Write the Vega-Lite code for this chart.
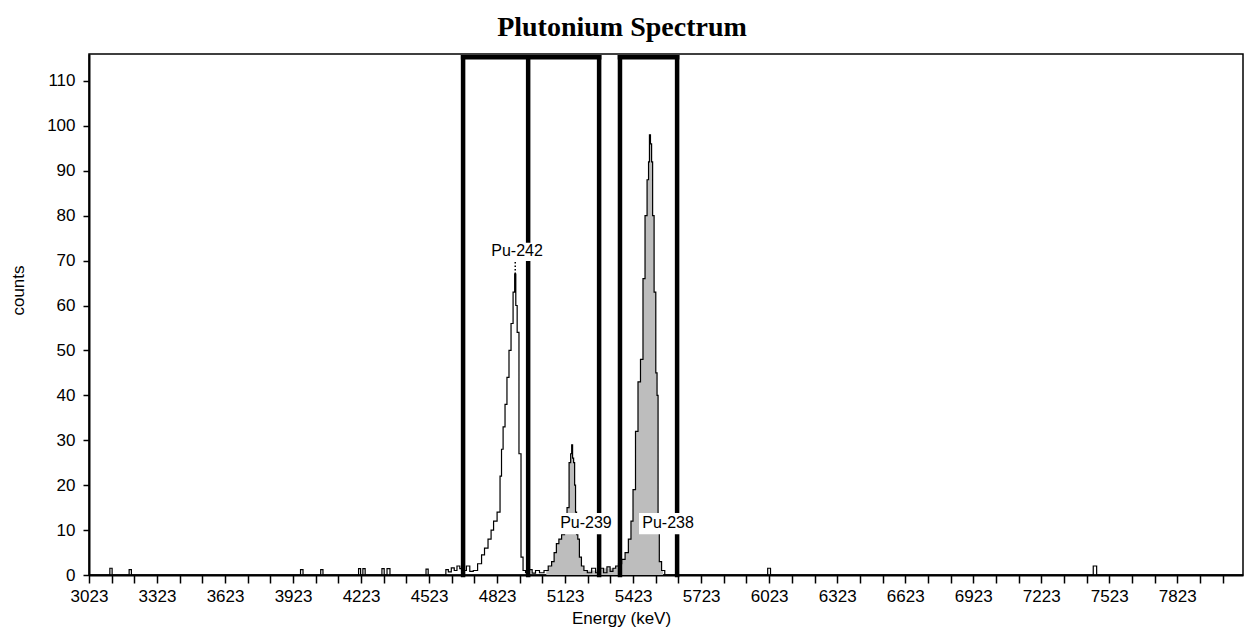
{
  "$schema": "https://vega.github.io/schema/vega-lite/v6.json",
  "autosize": {"type": "none"},
  "padding": {"left": 89, "top": 54, "right": 1, "bottom": 60},
  "width": 1154,
  "height": 521,
  "background": "white",
  "title": {
    "text": "Plutonium Spectrum",
    "font": "Liberation Serif",
    "fontSize": 28,
    "fontWeight": "bold",
    "color": "black",
    "anchor": "middle",
    "dx": -44,
    "offset": 12
  },
  "datasets": {
    "spectrum": [
      {"energy": 3023, "counts": 0, "peak": "none"},
      {"energy": 3110, "counts": 0, "peak": "none"},
      {"energy": 3120, "counts": 1.5, "peak": "none"},
      {"energy": 3130, "counts": 0, "peak": "none"},
      {"energy": 3195, "counts": 0, "peak": "none"},
      {"energy": 3205, "counts": 1.2, "peak": "none"},
      {"energy": 3215, "counts": 0, "peak": "none"},
      {"energy": 3950, "counts": 0, "peak": "none"},
      {"energy": 3962, "counts": 1.2, "peak": "none"},
      {"energy": 3972, "counts": 0, "peak": "none"},
      {"energy": 4040, "counts": 0, "peak": "none"},
      {"energy": 4050, "counts": 1.2, "peak": "none"},
      {"energy": 4060, "counts": 0, "peak": "none"},
      {"energy": 4208, "counts": 0, "peak": "none"},
      {"energy": 4216, "counts": 1.4, "peak": "none"},
      {"energy": 4226, "counts": 0, "peak": "none"},
      {"energy": 4236, "counts": 1.4, "peak": "none"},
      {"energy": 4246, "counts": 0, "peak": "none"},
      {"energy": 4310, "counts": 0, "peak": "none"},
      {"energy": 4320, "counts": 1.4, "peak": "none"},
      {"energy": 4330, "counts": 0, "peak": "none"},
      {"energy": 4345, "counts": 1.4, "peak": "none"},
      {"energy": 4356, "counts": 0, "peak": "none"},
      {"energy": 4505, "counts": 0, "peak": "none"},
      {"energy": 4514, "counts": 1.3, "peak": "none"},
      {"energy": 4524, "counts": 0, "peak": "none"},
      {"energy": 4592, "counts": 0, "peak": "none"},
      {"energy": 4602, "counts": 1.2, "peak": "none"},
      {"energy": 4614, "counts": 0.7, "peak": "none"},
      {"energy": 4628, "counts": 1.6, "peak": "none"},
      {"energy": 4640, "counts": 1, "peak": "none"},
      {"energy": 4652, "counts": 2, "peak": "none"},
      {"energy": 4665, "counts": 1.4, "peak": "none"},
      {"energy": 4680, "counts": 1, "peak": "none"},
      {"energy": 4695, "counts": 2, "peak": "none"},
      {"energy": 4710, "counts": 0.8, "peak": "none"},
      {"energy": 4726, "counts": 1, "peak": "Pu-242"},
      {"energy": 4748, "counts": 2.5, "peak": "Pu-242"},
      {"energy": 4761, "counts": 4.5, "peak": "Pu-242"},
      {"energy": 4774, "counts": 6, "peak": "Pu-242"},
      {"energy": 4792, "counts": 8, "peak": "Pu-242"},
      {"energy": 4801, "counts": 10, "peak": "Pu-242"},
      {"energy": 4814, "counts": 12, "peak": "Pu-242"},
      {"energy": 4832, "counts": 14, "peak": "Pu-242"},
      {"energy": 4840, "counts": 22, "peak": "Pu-242"},
      {"energy": 4845, "counts": 28, "peak": "Pu-242"},
      {"energy": 4854, "counts": 33, "peak": "Pu-242"},
      {"energy": 4862, "counts": 38, "peak": "Pu-242"},
      {"energy": 4871, "counts": 44, "peak": "Pu-242"},
      {"energy": 4880, "counts": 50, "peak": "Pu-242"},
      {"energy": 4889, "counts": 56, "peak": "Pu-242"},
      {"energy": 4898, "counts": 63, "peak": "Pu-242"},
      {"energy": 4903, "counts": 67, "peak": "Pu-242"},
      {"energy": 4908, "counts": 60, "peak": "Pu-242"},
      {"energy": 4915, "counts": 54, "peak": "Pu-242"},
      {"energy": 4924, "counts": 27, "peak": "Pu-242"},
      {"energy": 4933, "counts": 4, "peak": "Pu-242"},
      {"energy": 4942, "counts": 1, "peak": "Pu-242"},
      {"energy": 4955, "counts": 0.5, "peak": "none"},
      {"energy": 4970, "counts": 1.2, "peak": "none"},
      {"energy": 4985, "counts": 0.4, "peak": "none"},
      {"energy": 5000, "counts": 1, "peak": "none"},
      {"energy": 5020, "counts": 0.5, "peak": "none"},
      {"energy": 5040, "counts": 1, "peak": "Pu-239"},
      {"energy": 5057, "counts": 2, "peak": "Pu-239"},
      {"energy": 5070, "counts": 3, "peak": "Pu-239"},
      {"energy": 5079, "counts": 5, "peak": "Pu-239"},
      {"energy": 5090, "counts": 7, "peak": "Pu-239"},
      {"energy": 5101, "counts": 8, "peak": "Pu-239"},
      {"energy": 5114, "counts": 9, "peak": "Pu-239"},
      {"energy": 5127, "counts": 12, "peak": "Pu-239"},
      {"energy": 5136, "counts": 15, "peak": "Pu-239"},
      {"energy": 5145, "counts": 25, "peak": "Pu-239"},
      {"energy": 5150, "counts": 27, "peak": "Pu-239"},
      {"energy": 5154, "counts": 29, "peak": "Pu-239"},
      {"energy": 5158, "counts": 26, "peak": "Pu-239"},
      {"energy": 5163, "counts": 25, "peak": "Pu-239"},
      {"energy": 5167, "counts": 20, "peak": "Pu-239"},
      {"energy": 5171, "counts": 14, "peak": "Pu-239"},
      {"energy": 5176, "counts": 9, "peak": "Pu-239"},
      {"energy": 5182, "counts": 8, "peak": "Pu-239"},
      {"energy": 5190, "counts": 4, "peak": "Pu-239"},
      {"energy": 5200, "counts": 2, "peak": "Pu-239"},
      {"energy": 5212, "counts": 1, "peak": "Pu-239"},
      {"energy": 5230, "counts": 0.5, "peak": "none"},
      {"energy": 5250, "counts": 1.5, "peak": "none"},
      {"energy": 5265, "counts": 0.5, "peak": "none"},
      {"energy": 5285, "counts": 1.5, "peak": "none"},
      {"energy": 5300, "counts": 0.5, "peak": "none"},
      {"energy": 5315, "counts": 1.8, "peak": "none"},
      {"energy": 5328, "counts": 0.8, "peak": "none"},
      {"energy": 5340, "counts": 1.5, "peak": "Pu-238"},
      {"energy": 5352, "counts": 2, "peak": "Pu-238"},
      {"energy": 5365, "counts": 2.5, "peak": "Pu-238"},
      {"energy": 5380, "counts": 3.5, "peak": "Pu-238"},
      {"energy": 5395, "counts": 5, "peak": "Pu-238"},
      {"energy": 5409, "counts": 8, "peak": "Pu-238"},
      {"energy": 5418, "counts": 12, "peak": "Pu-238"},
      {"energy": 5427, "counts": 19, "peak": "Pu-238"},
      {"energy": 5440, "counts": 32, "peak": "Pu-238"},
      {"energy": 5449, "counts": 43, "peak": "Pu-238"},
      {"energy": 5462, "counts": 48, "peak": "Pu-238"},
      {"energy": 5471, "counts": 66, "peak": "Pu-238"},
      {"energy": 5480, "counts": 80, "peak": "Pu-238"},
      {"energy": 5489, "counts": 88, "peak": "Pu-238"},
      {"energy": 5493, "counts": 92, "peak": "Pu-238"},
      {"energy": 5497, "counts": 98, "peak": "Pu-238"},
      {"energy": 5502, "counts": 96, "peak": "Pu-238"},
      {"energy": 5507, "counts": 92, "peak": "Pu-238"},
      {"energy": 5511, "counts": 80, "peak": "Pu-238"},
      {"energy": 5520, "counts": 63, "peak": "Pu-238"},
      {"energy": 5526, "counts": 45, "peak": "Pu-238"},
      {"energy": 5531, "counts": 40, "peak": "Pu-238"},
      {"energy": 5535, "counts": 10, "peak": "Pu-238"},
      {"energy": 5542, "counts": 3, "peak": "Pu-238"},
      {"energy": 5555, "counts": 1, "peak": "Pu-238"},
      {"energy": 5570, "counts": 0, "peak": "none"},
      {"energy": 6010, "counts": 0, "peak": "none"},
      {"energy": 6023, "counts": 1.5, "peak": "none"},
      {"energy": 6035, "counts": 0, "peak": "none"},
      {"energy": 7445, "counts": 0, "peak": "none"},
      {"energy": 7460, "counts": 2, "peak": "none"},
      {"energy": 7475, "counts": 0, "peak": "none"},
      {"energy": 8110, "counts": 0, "peak": "none"}
    ],
    "boxes": [
      {"e1": 4673, "e2": 4673, "c1": 0, "c2": 115.3},
      {"e1": 4960, "e2": 4960, "c1": 0, "c2": 115.3},
      {"e1": 5273, "e2": 5273, "c1": 0, "c2": 115.3},
      {"e1": 4673, "e2": 5273, "c1": 115.3, "c2": 115.3},
      {"e1": 5365, "e2": 5365, "c1": 0, "c2": 115.3},
      {"e1": 5617, "e2": 5617, "c1": 0, "c2": 115.3},
      {"e1": 5365, "e2": 5617, "c1": 115.3, "c2": 115.3}
    ],
    "labels": [
      {"label": "Pu-242", "e": 4911, "c": 72.2, "e1": 4787, "e2": 5034, "c1": 69.9, "c2": 74},
      {"label": "Pu-239", "e": 5215, "c": 11.6, "e1": 5083, "e2": 5348, "c1": 9.1, "c2": 13.8},
      {"label": "Pu-238", "e": 5577, "c": 11.6, "e1": 5449, "e2": 5701, "c1": 9.1, "c2": 13.8}
    ],
    "markers": [
      {"e": 4903, "c1": 67, "c2": 69.8}
    ]
  },
  "encoding": {
    "x": {
      "field": "energy",
      "type": "quantitative",
      "scale": {"domain": [3023, 8113], "nice": false, "zero": false},
      "axis": {
        "title": "Energy (keV)",
        "values": [3023,3123,3223,3323,3423,3523,3623,3723,3823,3923,4023,4123,4223,4323,4423,4523,4623,4723,4823,4923,5023,5123,5223,5323,5423,5523,5623,5723,5823,5923,6023,6123,6223,6323,6423,6523,6623,6723,6823,6923,7023,7123,7223,7323,7423,7523,7623,7723,7823,7923,8023],
        "format": "d",
        "labelExpr": "datum.value % 300 === 23 ? datum.label : ''",
        "labelOverlap": false,
        "labelFlush": false,
        "tickSize": 8,
        "labelPadding": 5,
        "titleX": 532,
        "titleY": 35,
        "titleAlign": "center",
        "titleBaseline": "top"
      }
    },
    "y": {
      "field": "counts",
      "type": "quantitative",
      "scale": {"domain": [0, 116], "nice": false},
      "axis": {
        "title": "counts",
        "values": [0,10,20,30,40,50,60,70,80,90,100,110],
        "tickSize": 6,
        "labelPadding": 8,
        "titleX": -71,
        "titleY": 236,
        "titleAlign": "center",
        "titleBaseline": "middle",
        "titleAngle": 270
      }
    }
  },
  "layer": [
    {
      "data": {"name": "spectrum"},
      "transform": [{"filter": "datum.peak === 'Pu-239' || datum.peak === 'Pu-238'"}],
      "mark": {"type": "area", "interpolate": "step", "fill": "#bdbdbd", "opacity": 1},
      "encoding": {"detail": {"field": "peak"}}
    },
    {
      "data": {"name": "spectrum"},
      "mark": {"type": "line", "interpolate": "step", "stroke": "black", "strokeWidth": 1.2},
      "encoding": {}
    },
    {
      "data": {"name": "boxes"},
      "mark": {"type": "rule", "stroke": "black", "strokeWidth": 4.5, "strokeCap": "square"},
      "encoding": {
        "x": {"field": "e1", "type": "quantitative"},
        "x2": {"field": "e2"},
        "y": {"field": "c1", "type": "quantitative"},
        "y2": {"field": "c2"}
      }
    },
    {
      "data": {"name": "labels"},
      "mark": {"type": "rect", "fill": "white"},
      "encoding": {
        "x": {"field": "e1", "type": "quantitative"},
        "x2": {"field": "e2"},
        "y": {"field": "c1", "type": "quantitative"},
        "y2": {"field": "c2"}
      }
    },
    {
      "data": {"name": "labels"},
      "mark": {"type": "text", "font": "Liberation Sans", "fontSize": 16, "color": "black", "align": "center", "baseline": "middle"},
      "encoding": {
        "x": {"field": "e", "type": "quantitative"},
        "y": {"field": "c", "type": "quantitative"},
        "text": {"field": "label"}
      }
    },
    {
      "data": {"name": "markers"},
      "mark": {"type": "rule", "stroke": "black", "strokeWidth": 1.5, "strokeDash": [1.5, 2]},
      "encoding": {
        "x": {"field": "e", "type": "quantitative"},
        "y": {"field": "c1", "type": "quantitative"},
        "y2": {"field": "c2"}
      }
    }
  ],
  "config": {
    "view": {"stroke": "black", "strokeWidth": 1.5},
    "axis": {
      "domainColor": "black",
      "domainWidth": 2,
      "tickColor": "black",
      "tickWidth": 1.5,
      "grid": false,
      "labelFont": "Liberation Sans",
      "labelFontSize": 17,
      "labelColor": "black",
      "titleFont": "Liberation Sans",
      "titleFontSize": 17,
      "titleFontWeight": "normal",
      "titleColor": "black"
    }
  }
}
